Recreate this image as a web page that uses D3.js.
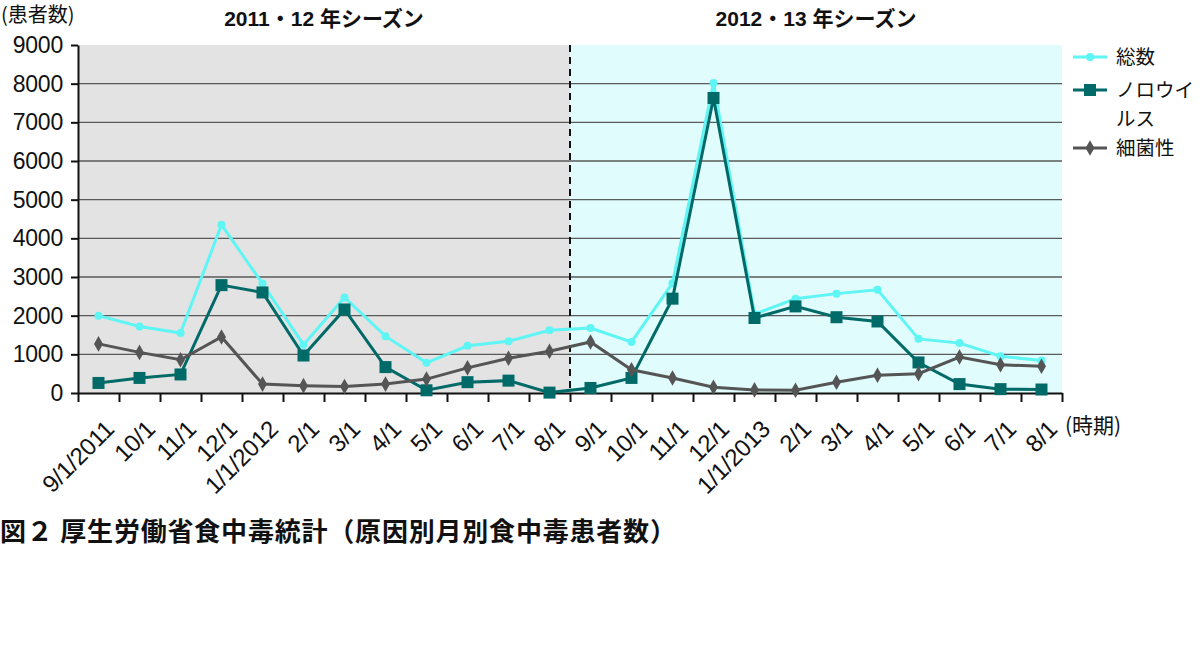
<!DOCTYPE html>
<html><head><meta charset="utf-8">
<script src="https://cdn.jsdelivr.net/npm/d3@7"></script>
<style>
body{margin:0;background:#fff;}
svg{display:block;}
text{font-family:"Liberation Sans","Noto Sans CJK JP",Arial,sans-serif;fill:#111;}
.jp{font-family:"Noto Sans CJK JP","Liberation Sans",sans-serif;}
</style></head>
<body>
<svg id="chart" width="1200" height="660"></svg>
<script>
const categories = ["9/1/2011","10/1","11/1","12/1","1/1/2012","2/1","3/1","4/1","5/1","6/1","7/1","8/1",
                    "9/1","10/1","11/1","12/1","1/1/2013","2/1","3/1","4/1","5/1","6/1","7/1","8/1"];
const totalValues = [2000,1720,1550,4350,2830,1250,2470,1470,780,1220,1340,1620,
                     1680,1320,2840,8020,2040,2440,2570,2670,1400,1290,950,840];
const norovirusValues = [260,390,480,2790,2600,970,2160,670,70,280,320,10,
                         130,390,2440,7630,1940,2240,1960,1850,790,230,100,90];
const bacterialValues = [1270,1050,860,1450,230,190,170,230,360,650,900,1080,
                         1320,600,390,150,80,70,280,460,500,930,730,690];
const yTicks = [0,1000,2000,3000,4000,5000,6000,7000,8000,9000];
const seasonLabels = ["2011・12 年シーズン","2012・13 年シーズン"];
const seriesNames = ["総数","ノロウイルス","細菌性"];
const yUnitLabel = "(患者数)";
const xUnitLabel = "(時期)";
const caption = "図２ 厚生労働省食中毒統計（原因別月別食中毒患者数）";

const svg = d3.select("#chart");
const L = 78, R = 1062, T = 45, B = 393;

const x = d3.scaleBand().domain(d3.range(categories.length)).range([L, R]).padding(0);
const xEdge = d3.scaleLinear().domain([0, categories.length]).range([L, R]);
const y = d3.scaleLinear().domain([0, 9000]).range([B, T]);

// backgrounds
const mid = xEdge(12);
svg.append("rect").attr("x", L).attr("y", T).attr("width", mid - L).attr("height", B - T).attr("fill", "#e3e3e3");
svg.append("rect").attr("x", mid).attr("y", T).attr("width", R - mid).attr("height", B - T).attr("fill", "#e0fcfc");

// gridlines
svg.append("g").selectAll("line").data(yTicks.filter(d => d > 0 && d < 9000)).join("line")
  .attr("x1", L).attr("x2", R).attr("y1", d => y(d)).attr("y2", d => y(d))
  .attr("stroke", "#5a5a5a").attr("stroke-width", 1.4);

// dashed season divider
svg.append("line").attr("x1", mid).attr("x2", mid).attr("y1", T).attr("y2", B)
  .attr("stroke", "#111").attr("stroke-width", 2).attr("stroke-dasharray", "7,5");

// y axis
const yAxis = svg.append("g").attr("transform", `translate(${L},0)`)
  .call(d3.axisLeft(y).tickValues(yTicks).tickSize(7).tickSizeOuter(0).tickFormat(d3.format("d")));
yAxis.select(".domain").attr("stroke", "#111").attr("stroke-width", 2);
yAxis.selectAll(".tick line").attr("stroke", "#111").attr("stroke-width", 2);
yAxis.selectAll(".tick text").attr("font-size", 23).attr("x", -15).attr("fill", "#111")
  .attr("font-family", "Liberation Sans, Arial, sans-serif").attr("letter-spacing", "-0.2");

// x axis ticks at band edges
const xAxis = svg.append("g").attr("transform", `translate(0,${B})`)
  .call(d3.axisBottom(xEdge).tickValues(d3.range(categories.length + 1)).tickSize(9).tickSizeOuter(0).tickFormat(""));
xAxis.select(".domain").attr("stroke", "#111").attr("stroke-width", 2);
xAxis.selectAll(".tick line").attr("stroke", "#111").attr("stroke-width", 2);

// x labels
svg.append("g").selectAll("text").data(categories).join("text")
  .attr("transform", (d, i) => `translate(${x(i) + x.bandwidth() / 2 + 5},${B + 26}) rotate(-45)`)
  .attr("text-anchor", "end").attr("dy", "0.7em")
  .attr("font-size", 24).attr("letter-spacing", "-0.3")
  .text(d => d);

// lines
const line = d3.line().x((d, i) => x(i) + x.bandwidth() / 2).y(d => y(d));
const cTotal = "#5ff5f5", cNoro = "#006a68", cBact = "#555555";

svg.append("path").datum(totalValues).attr("d", line).attr("fill", "none")
  .attr("stroke", cTotal).attr("stroke-width", 3);
svg.append("g").selectAll("circle").data(totalValues).join("circle")
  .attr("cx", (d, i) => x(i) + x.bandwidth() / 2).attr("cy", d => y(d)).attr("r", 4).attr("fill", cTotal);

svg.append("path").datum(norovirusValues).attr("d", line).attr("fill", "none")
  .attr("stroke", cNoro).attr("stroke-width", 3);
svg.append("g").selectAll("rect").data(norovirusValues).join("rect")
  .attr("x", (d, i) => x(i) + x.bandwidth() / 2 - 6).attr("y", d => y(d) - 6)
  .attr("width", 12).attr("height", 12).attr("fill", cNoro);

svg.append("path").datum(bacterialValues).attr("d", line).attr("fill", "none")
  .attr("stroke", cBact).attr("stroke-width", 3);
const diamond = d3.symbol().type(d3.symbolDiamond).size(70);
svg.append("g").selectAll("path").data(bacterialValues).join("path")
  .attr("d", diamond)
  .attr("transform", (d, i) => `translate(${x(i) + x.bandwidth() / 2},${y(d)})`).attr("fill", cBact);

// season titles
svg.append("text").attr("x", (L + mid) / 2).attr("y", 26).attr("text-anchor", "middle")
  .attr("font-size", 21).attr("font-weight", "bold").text(seasonLabels[0]);
svg.append("text").attr("x", (mid + R) / 2).attr("y", 26).attr("text-anchor", "middle")
  .attr("font-size", 21).attr("font-weight", "bold").text(seasonLabels[1]);

// unit labels
svg.append("text").attr("class", "jp").attr("x", 1).attr("y", 22).attr("font-size", 20).text(yUnitLabel);
svg.append("text").attr("class", "jp").attr("x", 1065).attr("y", 433).attr("font-size", 21).text(xUnitLabel);

// legend
const legendItems = [
  {color: cTotal, type: "circle", lines: ["総数"], y: 57},
  {color: cNoro, type: "square", lines: ["ノロウイ", "ルス"], y: 90},
  {color: cBact, type: "diamond", lines: ["細菌性"], y: 148}
];
const lg = svg.append("g");
legendItems.forEach(it => {
  lg.append("line").attr("x1", 1073).attr("x2", 1107).attr("y1", it.y).attr("y2", it.y)
    .attr("stroke", it.color).attr("stroke-width", 3);
  if (it.type === "circle") lg.append("circle").attr("cx", 1090).attr("cy", it.y).attr("r", 4).attr("fill", it.color);
  else if (it.type === "square") lg.append("rect").attr("x", 1084).attr("y", it.y - 6).attr("width", 12).attr("height", 12).attr("fill", it.color);
  else lg.append("path").attr("d", diamond).attr("transform", `translate(1090,${it.y})`).attr("fill", it.color);
  it.lines.forEach((t, k) => {
    lg.append("text").attr("class", "jp").attr("x", 1116).attr("y", it.y + 7 + k * 28.5)
      .attr("font-size", 19.5).attr("fill", "#222").text(t);
  });
});

// caption
svg.append("text").attr("class", "jp").attr("x", 0).attr("y", 541)
  .attr("font-size", 26).attr("font-weight", "bold").attr("letter-spacing", "0.8").text(caption);
</script>
</body></html>
